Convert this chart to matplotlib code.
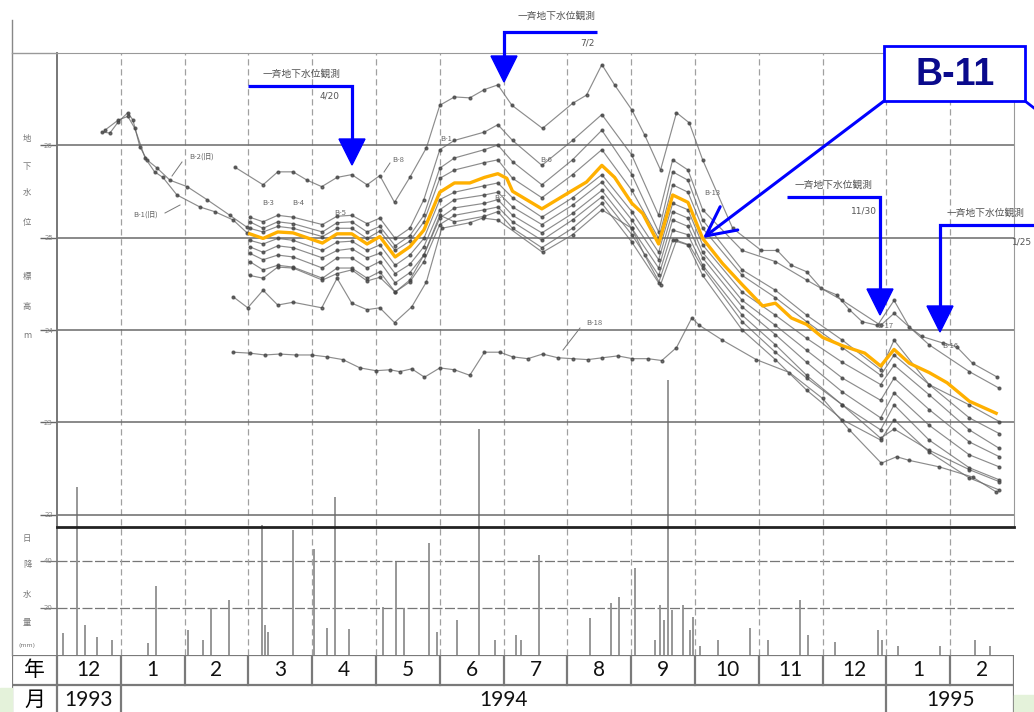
import matplotlib
matplotlib.use("Agg")
import matplotlib.pyplot as plt
from matplotlib.patches import Rectangle, Polygon

plt.rcParams['font.family'] = ['DejaVu Sans', 'Noto Sans CJK JP']

# ---------------------------------------------------------------
# DATOS  (tiempo = meses desde 1993-12-01, nivel = 標高 m)
# ---------------------------------------------------------------
meses = ['12', '1', '2', '3', '4', '5', '6', '7', '8', '9', '10', '11', '12', '1', '2']
anios = [('1993', 0, 1), ('1994', 1, 13), ('1995', 13, 15)]

# B-11 (resaltado en naranja)
t_b11 = [3.02, 3.23, 3.46, 3.70, 4.16, 4.39, 4.62, 4.86, 5.06, 5.30, 5.53, 5.75,
         6.00, 6.23, 6.47, 6.70, 6.91, 7.05, 7.14, 7.60, 8.08, 8.30, 8.54, 8.74,
         9.01, 9.18, 9.43, 9.65, 9.89, 10.12, 10.43, 10.74, 11.06, 11.26, 11.51, 11.75,
         12.00, 12.31, 12.66, 12.91, 13.12, 13.36, 13.67, 13.95, 14.30, 14.72]
nv_b11 = [25.04, 24.99, 25.06, 25.05, 24.94, 25.04, 25.04, 24.93, 25.01, 24.79, 24.90, 25.08,
          25.49, 25.59, 25.59, 25.65, 25.69, 25.64, 25.50, 25.31, 25.51, 25.60, 25.78, 25.65,
          25.37, 25.26, 24.93, 25.46, 25.38, 24.99, 24.72, 24.49, 24.26, 24.29, 24.13, 24.06,
          23.92, 23.83, 23.75, 23.61, 23.79, 23.64, 23.54, 23.43, 23.23, 23.10]

# fechas comunes de los demás pozos
t_obs = [3.02, 3.23, 3.46, 3.70, 4.16, 4.39, 4.62, 4.86, 5.06, 5.30, 5.53, 5.75,
         6.00, 6.23, 6.70, 6.91, 7.14, 7.60, 8.08, 8.54, 9.01, 9.43, 9.65, 9.89,
         10.12, 10.74, 11.26, 11.75, 12.31, 12.91, 13.12, 13.67, 14.30, 14.77]
nv_a = [25.22, 25.17, 25.24, 25.22, 25.14, 25.23, 25.24, 25.15, 25.21, 24.99, 25.10, 25.41,
        25.95, 26.05, 26.14, 26.22, 26.05, 25.78, 26.05, 26.33, 25.89, 25.24, 25.84, 25.73,
        25.30, 24.86, 24.74, 24.54, 24.32, 24.05, 24.18, 23.84, 23.55, 23.37]
nv_b = [25.17, 25.10, 25.17, 25.15, 25.06, 25.16, 25.17, 25.06, 25.12, 24.91, 25.02, 25.24,
        25.75, 25.86, 25.95, 26.00, 25.82, 25.57, 25.84, 26.16, 25.68, 25.06, 25.71, 25.62,
        25.19, 24.65, 24.43, 24.16, 23.89, 23.57, 23.89, 23.41, 23.19, 23.01]
nv_c = [25.10, 25.06, 25.12, 25.10, 25.01, 25.10, 25.10, 24.99, 25.07, 24.86, 24.96, 25.17,
        25.64, 25.73, 25.81, 25.84, 25.64, 25.43, 25.68, 25.95, 25.51, 24.99, 25.57, 25.49,
        25.10, 24.59, 24.35, 24.09, 23.81, 23.51, 23.73, 23.41, 23.05, 22.88]
nv_d = [24.97, 24.93, 24.99, 24.97, 24.86, 24.95, 24.96, 24.86, 24.92, 24.70, 24.81, 24.99,
        25.41, 25.49, 25.56, 25.59, 25.43, 25.22, 25.43, 25.68, 25.28, 24.84, 25.37, 25.30,
        24.92, 24.41, 24.16, 23.91, 23.65, 23.41, 23.62, 23.30, 22.92, 22.72]
nv_e = [24.90, 24.84, 24.91, 24.89, 24.78, 24.86, 24.88, 24.78, 24.83, 24.61, 24.71, 24.90,
        25.30, 25.41, 25.46, 25.49, 25.33, 25.14, 25.35, 25.60, 25.19, 24.76, 25.28, 25.21,
        24.84, 24.32, 24.05, 23.78, 23.48, 23.24, 23.48, 23.14, 22.79, 22.63]
nv_f = [24.83, 24.76, 24.81, 24.79, 24.67, 24.78, 24.78, 24.67, 24.74, 24.51, 24.62, 24.81,
        25.21, 25.32, 25.37, 25.41, 25.24, 25.05, 25.26, 25.51, 25.10, 24.67, 25.19, 25.12,
        24.78, 24.25, 23.95, 23.65, 23.33, 23.05, 23.32, 22.97, 22.65, 22.52]
nv_g = [24.74, 24.65, 24.70, 24.68, 24.56, 24.67, 24.67, 24.56, 24.63, 24.41, 24.52, 24.74,
        25.14, 25.24, 25.30, 25.33, 25.17, 24.97, 25.19, 25.44, 25.03, 24.59, 25.08, 25.03,
        24.70, 24.16, 23.84, 23.51, 23.19, 22.92, 23.19, 22.81, 22.51, 22.38]
nv_h = [24.59, 24.56, 24.68, 24.67, 24.54, 24.61, 24.65, 24.53, 24.57, 24.41, 24.54, 24.81,
        25.24, 25.17, 25.23, 25.28, 25.10, 24.89, 25.10, 25.37, 24.95, 24.51, 24.97, 24.92,
        24.59, 24.00, 23.68, 23.35, 23.03, 22.81, 23.03, 22.68, 22.40, 22.27]

# pozo más bajo
t_i = [2.76, 2.99, 3.23, 3.46, 3.70, 4.15, 4.39, 4.62, 4.86, 5.06, 5.29, 5.56,
       5.79, 6.03, 6.47, 6.67, 6.91, 7.61, 8.08, 8.54, 9.01, 9.21, 9.46, 9.71,
       9.91, 10.12, 10.74, 11.26, 11.75, 12.31, 12.91, 13.12, 13.67, 14.30, 14.77]
nv_i = [24.36, 24.24, 24.43, 24.27, 24.30, 24.24, 24.56, 24.29, 24.22, 24.24, 24.08, 24.25,
        24.52, 25.10, 25.16, 25.21, 25.19, 24.84, 25.03, 25.30, 25.10, 24.81, 24.49, 24.97,
        24.92, 24.67, 24.09, 23.76, 23.48, 23.19, 22.83, 22.93, 22.70, 22.49, 22.36]

# B-8
t_b8 = [2.79, 3.23, 3.46, 3.70, 3.92, 4.15, 4.39, 4.62, 4.86, 5.06, 5.29, 5.53,
        5.79, 6.00, 6.23, 6.47, 6.70, 6.91, 7.13, 7.61, 8.08, 8.30, 8.54, 8.74,
        9.01, 9.21, 9.46, 9.71, 9.91, 10.12, 10.59, 11.04, 11.29, 11.51, 11.75, 11.98,
        12.22, 12.42, 12.62, 12.86, 13.12, 13.36, 13.56, 13.88, 14.10, 14.35, 14.74]
nv_b8 = [25.76, 25.57, 25.71, 25.71, 25.62, 25.55, 25.65, 25.68, 25.57, 25.67, 25.38, 25.65,
         25.97, 26.43, 26.52, 26.51, 26.60, 26.65, 26.43, 26.18, 26.45, 26.54, 26.87, 26.65,
         26.38, 26.11, 25.73, 26.35, 26.24, 25.84, 25.10, 24.86, 24.86, 24.70, 24.63, 24.45,
         24.38, 24.22, 24.09, 24.05, 24.32, 24.03, 23.93, 23.86, 23.82, 23.64, 23.49]

# B-18
t_b18 = [2.76, 3.02, 3.26, 3.49, 3.74, 3.99, 4.23, 4.48, 4.75, 5.00, 5.22, 5.37,
         5.56, 5.76, 6.00, 6.23, 6.47, 6.70, 6.94, 7.14, 7.38, 7.61, 7.85, 8.08,
         8.32, 8.55, 8.79, 9.02, 9.26, 9.48, 9.71, 9.95, 10.07, 10.43, 10.96, 11.48,
         12.00, 12.42, 12.92, 13.16, 13.36, 13.83, 14.35, 14.72]
nv_b18 = [23.76, 23.75, 23.73, 23.74, 23.73, 23.73, 23.71, 23.68, 23.59, 23.56, 23.57, 23.55,
          23.58, 23.49, 23.59, 23.57, 23.51, 23.76, 23.76, 23.71, 23.69, 23.74, 23.70, 23.69,
          23.68, 23.70, 23.72, 23.69, 23.69, 23.67, 23.81, 24.13, 24.05, 23.89, 23.68, 23.54,
          23.26, 22.92, 22.56, 22.63, 22.59, 22.52, 22.41, 22.25]

# B-2(旧), B-1(旧)
t_b2v = [0.70, 0.83, 0.96, 1.11, 1.19, 1.30, 1.41, 1.57, 1.77, 2.04, 2.35, 2.71, 2.98]
nv_b2v = [26.14, 26.13, 26.25, 26.35, 26.27, 25.98, 25.84, 25.75, 25.62, 25.55, 25.41, 25.24, 25.11]
t_b1v = [0.75, 0.96, 1.11, 1.22, 1.38, 1.53, 1.66, 1.88, 2.24, 2.47, 2.76, 2.98]
nv_b1v = [26.16, 26.27, 26.31, 26.18, 25.86, 25.71, 25.65, 25.46, 25.33, 25.28, 25.19, 25.05]

# 日降水量 (mm)
t_lluvia = [0.09, 0.31, 0.44, 0.63, 0.86, 1.43, 1.55, 2.05, 2.29, 2.41, 2.70, 3.21, 3.26, 3.31,
            3.70, 4.03, 4.23, 4.36, 4.58, 5.11, 5.31, 5.44, 5.83, 5.95, 6.27, 6.61, 6.86, 7.20,
            7.27, 7.55, 8.36, 8.68, 8.81, 9.06, 9.37, 9.45, 9.51, 9.58, 9.64, 9.81, 9.92, 9.97,
            10.08, 10.36, 10.86, 11.14, 11.64, 11.77, 12.19, 12.87, 12.93, 13.18, 13.84, 14.39, 14.62]
mm_lluvia = [9.4, 71.5, 12.8, 7.7, 6.4, 5.1, 29.4, 10.6, 6.4, 20.0, 23.4, 55.3, 12.8, 9.8,
             53.2, 45.1, 11.5, 67.2, 11.1, 20.4, 39.6, 20.0, 47.7, 9.8, 14.9, 96.0, 6.4, 8.5,
             6.4, 42.6, 15.7, 22.1, 24.7, 37.0, 6.4, 21.3, 14.9, 117.0, 19.1, 21.3, 10.6, 16.2,
             4.0, 6.4, 11.5, 6.4, 23.4, 8.5, 5.5, 10.6, 6.4, 4.0, 4.0, 6.4, 4.0]

# ---------------------------------------------------------------
# FIGURA
# ---------------------------------------------------------------
W, H = 1034, 712
fig = plt.figure(figsize=(W / 100, H / 100), dpi=100)


def caja(x0, y0, x1, y1):
    return [x0 / W, 1 - y1 / H, (x1 - x0) / W, (y1 - y0) / H]


ax_r = fig.add_axes(caja(57, 53, 1014, 655), zorder=1)
ax = fig.add_axes(caja(57, 53, 1014, 527), zorder=2)
ax_t = fig.add_axes(caja(12, 655, 1014, 715), zorder=3)
ov = fig.add_axes([0, 0, 1, 1], zorder=4)

GRIS = '#666666'
AZUL = '#0000ff'

# ---- lluvia ----
ax_r.set_xlim(0, 15)
ax_r.set_ylim(0, 256)
ax_r.vlines(t_lluvia, 0, mm_lluvia, color='#8f8f8f', lw=1.3)
for m in range(1, 15):
    ax_r.axvline(m, color='#a0a0a0', lw=0.9, ls=(0, (5, 3)))
ax_r.set_yticks([20, 40])
ax_r.set_yticklabels(['20', '40'], fontsize=5, color='#888')
ax_r.tick_params(axis='y', direction='out', length=12, width=0.9, color='#777', pad=-9)
ax_r.grid(axis='y', color='#777', lw=0.9, ls=(0, (8, 2)))
ax_r.set_xticks([])
for s in ['top', 'right', 'bottom']:
    ax_r.spines[s].set_visible(False)
ax_r.spines['left'].set_color('#777')
ax_r.spines['left'].set_linewidth(1.2)
ax_r.patch.set_alpha(0)

# ---- niveles ----
ax.set_xlim(0, 15)
ax.set_ylim(21.87, 26.995)
ax.patch.set_alpha(0)
ax.set_xticks([])
ax.set_yticks([22, 23, 24, 25, 26])
ax.set_yticklabels(['22', '23', '24', '25', '26'], fontsize=5, color='#888')
ax.tick_params(axis='y', direction='out', length=12, width=1, color='#666', pad=-9)
ax.grid(axis='y', color='#6a6a6a', lw=1.1)
ax.spines['left'].set_color('#777')
ax.spines['left'].set_linewidth(1.2)
ax.spines['top'].set_color('#999')
ax.spines['right'].set_color('#999')
ax.spines['bottom'].set_color('#222')
ax.spines['bottom'].set_linewidth(2)

estilo = dict(color=GRIS, lw=0.85, marker='o', ms=2.0, mfc='#444', mec='#444', alpha=0.75)
ax.plot(t_b2v, nv_b2v, **estilo)
ax.plot(t_b1v, nv_b1v, **estilo)
ax.plot(t_b8, nv_b8, **estilo)
ax.plot(t_b18, nv_b18, **estilo)
ax.plot(t_i, nv_i, **estilo)
for nv in [nv_a, nv_b, nv_c, nv_d, nv_e, nv_f, nv_g, nv_h]:
    ax.plot(t_obs, nv, **estilo)
ax.plot(t_b11, nv_b11, color='#ffb000', lw=2.4, zorder=5)

# ---- tabla de meses ----
ax_t.set_xlim(-0.705, 15)
ax_t.set_ylim(2, 0)
ax_t.axis('off')
ax_t.add_patch(Rectangle((-0.705, 0), 15.705, 2, facecolor='white', edgecolor='none'))
LT = dict(color='#7a7a7a', lw=1.6)
for y in [0, 1, 2]:
    ax_t.plot([-0.705, 15], [y, y], **LT)
for x in [-0.705] + list(range(16)):
    ax_t.plot([x, x], [0, 1], **LT)
for x in [-0.705, 0, 1, 13, 15]:
    ax_t.plot([x, x], [1, 2], **LT)
fuente_num = dict(fontsize=15, family=['Lato', 'DejaVu Sans'], color='#111', ha='center', va='center')
for i, m in enumerate(meses):
    ax_t.text(i + 0.5, 0.5, m, **fuente_num)
for txt, a, b in anios:
    ax_t.text((a + b) / 2, 1.5, txt, **fuente_num)
ax_t.text(-0.35, 0.5, '年', fontsize=15, family='Noto Sans CJK JP', ha='center', va='center')
ax_t.text(-0.35, 1.5, '月', fontsize=15, family='Noto Sans CJK JP', ha='center', va='center')

# ---- capa de anotaciones (pixeles) ----
ov.set_xlim(0, W)
ov.set_ylim(H, 0)
ov.axis('off')
ov.plot([12, 12], [20, 655], color='#888', lw=1)
ov.plot([12, 57], [53, 53], color='#999', lw=1)
ov.add_patch(Rectangle((0, 688), 12, 24, color='#e4f2da'))
ov.add_patch(Rectangle((1014, 695), 20, 17, color='#e4f2da'))

CJK = ['Noto Sans CJK JP', 'DejaVu Sans']
for ch, y in zip('地下水位標高', [138, 167, 193, 223, 277, 307]):
    ov.text(27, y, ch, fontsize=6, color='#777', family=CJK, ha='center', va='center')
ov.text(27, 335, 'm', fontsize=6, color='#777', ha='center', va='center')
for ch, y in zip('日降水量', [538, 565, 595, 622]):
    ov.text(27, y, ch, fontsize=6, color='#777', family=CJK, ha='center', va='center')
ov.text(27, 645, '(mm)', fontsize=4.5, color='#777', ha='center', va='center')

# rótulos de pozos
rot = dict(fontsize=5.5, color='#666', family=CJK, ha='center', va='center')
for txt, x, y in [('B-2(旧)', 202, 157), ('B-1(旧)', 146, 215), ('B-8', 398, 160),
                  ('B-1', 446, 139), ('B-3', 268, 203), ('B-4', 298, 203),
                  ('B-5', 340, 213), ('B-6', 546, 160), ('B-7', 500, 198),
                  ('B-13', 712, 193), ('B-18', 594, 323), ('B-17', 885, 326),
                  ('B-16', 950, 346)]:
    ov.text(x, y, txt, **rot)
for x0, y0, x1, y1 in [(182, 162, 172, 176), (165, 213, 180, 205), (390, 163, 384, 172),
                       (580, 328, 563, 350)]:
    ov.plot([x0, x1], [y0, y1], color='#777', lw=0.7)

# flechas "一斉地下水位観測"
flechas = [
    ([(248, 86), (352, 86), (352, 140)], '4/20', (302, 74), (340, 96), 'center'),
    ([(597, 32), (504, 32), (504, 57)], '7/2', (557, 16), (595, 43), 'center'),
    ([(787, 197), (880, 197), (880, 290)], '11/30', (834, 185), (877, 211), 'center'),
    ([(1034, 225), (940, 225), (940, 307)], '1/25', (947, 213), (1032, 242), 'left'),
]
for pts, fecha, ptxt, pfecha, ha in flechas:
    xs, ys = zip(*pts)
    ov.plot(xs, ys, color=AZUL, lw=2.3, solid_capstyle='butt', solid_joinstyle='miter')
    xe, ye = pts[-1]
    ov.add_patch(Polygon([(xe - 13, ye - 1), (xe + 13, ye - 1), (xe, ye + 25)],
                         closed=True, color=AZUL))
    ov.text(ptxt[0], ptxt[1], '一斉地下水位観測', fontsize=7, color='#555', family=CJK,
            ha=ha, va='center')
    ov.text(pfecha[0], pfecha[1], fecha, fontsize=6.5, color='#555', ha='right', va='center')

# recuadro B-11
ov.add_patch(Rectangle((884, 46), 141, 55, facecolor='white', edgecolor=AZUL, lw=2, zorder=6))
ov.text(955, 75, 'B-11', fontsize=27, fontweight='bold', color='#0a0a8c',
        family=['Liberation Sans', 'DejaVu Sans'], ha='center', va='center', zorder=7)
ov.annotate('', xy=(703, 238), xytext=(884, 101),
            arrowprops=dict(arrowstyle='->,head_length=0.7,head_width=0.35', color=AZUL,
                            lw=2.2, mutation_scale=30, shrinkA=0, shrinkB=0))
ov.plot([1025, 1034], [101, 108], color=AZUL, lw=2)

fig.savefig('out.png', dpi=100)
